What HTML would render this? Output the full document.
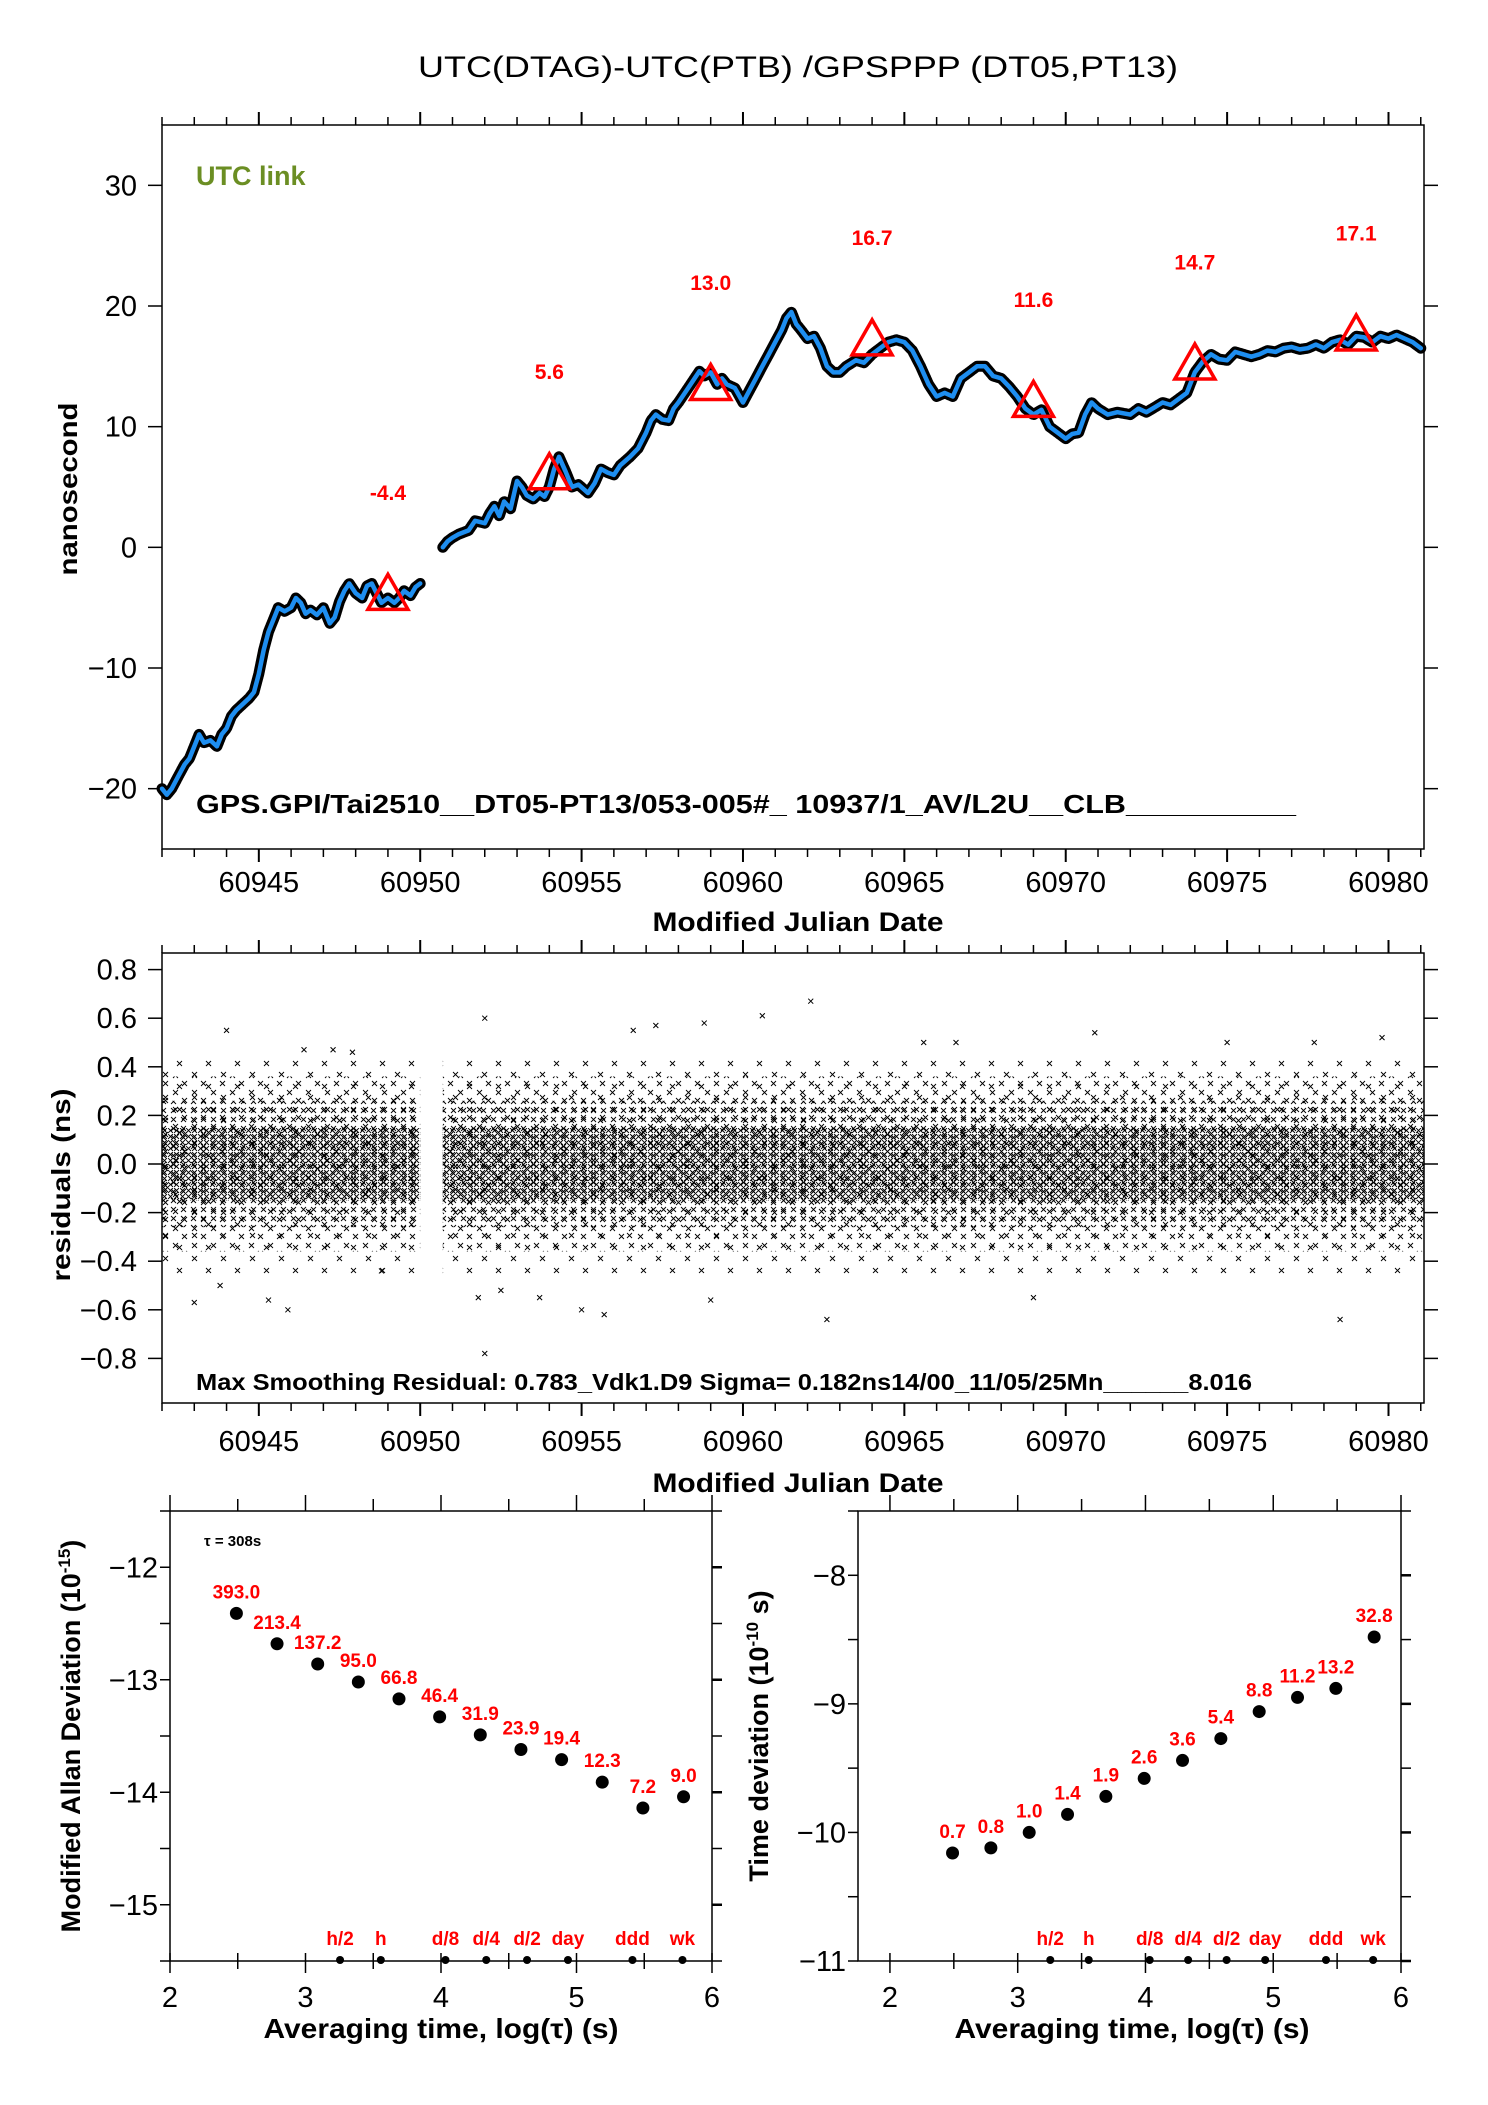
<!DOCTYPE html>
<html><head><meta charset="utf-8"><title>UTC(DTAG)-UTC(PTB)</title>
<style>
html,body{margin:0;padding:0;background:#fff;}
svg{display:block;font-family:"Liberation Sans",Arial,sans-serif;}
</style></head>
<body>
<svg id="chart" width="1488" height="2105" viewBox="0 0 1488 2105" xmlns="http://www.w3.org/2000/svg">
<defs>
<pattern id="pDense" width="6" height="6" patternUnits="userSpaceOnUse">
<path d="M0,0 L5,5 M5,0 L0,5" stroke="#000" stroke-width="0.9"/>
</pattern>
<pattern id="pMed" width="10" height="9" patternUnits="userSpaceOnUse">
<path d="M1,1 L6,6 M6,1 L1,6" stroke="#000" stroke-width="0.9"/>
</pattern>
<pattern id="pSparse" width="19" height="17" patternUnits="userSpaceOnUse">
<path d="M2,2 L7,7 M7,2 L2,7" stroke="#000" stroke-width="0.9"/>
<path d="M11,10 L16,15 M16,10 L11,15" stroke="#000" stroke-width="0.9"/>
</pattern>
<pattern id="pVSparse" width="29" height="23" patternUnits="userSpaceOnUse">
<path d="M3,3 L8,8 M8,3 L3,8" stroke="#000" stroke-width="0.9"/>
<path d="M18,14 L23,19 M23,14 L18,19" stroke="#000" stroke-width="0.9"/>
</pattern>
</defs>
<text x="798" y="77" font-size="30" text-anchor="middle" textLength="760" lengthAdjust="spacingAndGlyphs">UTC(DTAG)-UTC(PTB)  /GPSPPP  (DT05,PT13)</text>
<g id="g1"></g>
<g id="g2"></g>
<g id="g3"></g>
<g id="g4"></g>
</svg>
<script>
// ---------- data ----------
const offsetMjd = [60942.0,60942.15,60942.3,60942.5,60942.7,60942.85,60943.0,60943.15,60943.3,60943.5,60943.7,60943.85,60944.0,60944.15,60944.3,60944.5,60944.7,60944.85,60945.0,60945.15,60945.3,60945.45,60945.6,60945.8,60946.0,60946.15,60946.3,60946.45,60946.6,60946.8,60947.0,60947.2,60947.35,60947.5,60947.65,60947.8,60948.0,60948.2,60948.35,60948.5,60948.65,60948.8,60949.0,60949.2,60949.35,60949.5,60949.7,60949.85,60950.0,
null,
60950.7,60950.85,60951.0,60951.2,60951.5,60951.7,60952.0,60952.15,60952.3,60952.45,60952.6,60952.8,60953.0,60953.15,60953.3,60953.5,60953.7,60953.85,60954.0,60954.15,60954.3,60954.5,60954.7,60954.9,60955.2,60955.4,60955.6,60955.8,60956.0,60956.2,60956.5,60956.75,60957.0,60957.15,60957.3,60957.5,60957.7,60957.85,60958.0,60958.25,60958.5,60958.65,60958.8,60959.0,60959.2,60959.35,60959.5,60959.75,60960.0,60960.2,60960.4,60960.6,60960.8,60961.0,60961.2,60961.35,60961.5,60961.65,60961.8,60962.0,60962.2,60962.4,60962.6,60962.8,60963.0,60963.2,60963.5,60963.75,60964.0,60964.25,60964.5,60964.75,60965.0,60965.25,60965.5,60965.75,60966.0,60966.25,60966.5,60966.75,60967.0,60967.25,60967.5,60967.75,60968.0,60968.25,60968.5,60968.75,60969.0,60969.25,60969.5,60969.75,60970.0,60970.2,60970.4,60970.6,60970.8,60971.0,60971.3,60971.6,60972.0,60972.25,60972.5,60972.75,60973.0,60973.25,60973.5,60973.75,60974.0,60974.25,60974.5,60974.75,60975.0,60975.25,60975.5,60975.75,60976.0,60976.25,60976.5,60976.75,60977.0,60977.25,60977.5,60977.75,60978.0,60978.25,60978.5,60978.75,60979.0,60979.25,60979.5,60979.75,60980.0,60980.25,60980.5,60980.75,60981.0,60981.1];
const offsetNs = [-20,-20.5,-20,-19,-18,-17.5,-16.5,-15.5,-16.2,-16,-16.5,-15.5,-15,-14,-13.5,-13,-12.5,-12,-10.5,-8.5,-7,-6,-5,-5.3,-5,-4.2,-4.6,-5.5,-5.2,-5.6,-5,-6.3,-5.8,-4.5,-3.6,-3,-3.8,-4.2,-3.2,-3,-3.8,-4.6,-4.2,-4.6,-4.2,-3.6,-4,-3.3,-3,
null,
0,0.5,0.8,1.1,1.4,2.2,2,2.8,3.4,2.6,3.8,3.2,5.5,5,4.3,4,4.5,4.2,5,6.5,7.5,6.3,5,5.2,4.5,5.3,6.5,6.2,6,6.8,7.5,8.2,9.5,10.5,11,10.6,10.5,11.5,12,13,14,14.6,14.2,14.5,13.5,14,13.5,13.2,12,13,14,15,16,17,18,19,19.5,18.5,18,17.3,17.5,16.5,15,14.5,14.5,15,15.5,15.3,16,16.5,17,17.2,17,16.3,15,13.5,12.5,12.8,12.5,14,14.5,15,15,14.2,14,13.3,12.5,11.5,11,11.4,10,9.5,9,9.4,9.5,11,12,11.5,11,11.2,11,11.5,11.2,11.6,12,11.8,12.3,12.8,14.5,15.4,16,15.6,15.5,16.2,16,15.8,16,16.3,16.2,16.5,16.6,16.4,16.5,16.8,16.5,17,17.2,16.8,17.5,17.4,17,17.5,17.3,17.6,17.3,17,16.5];
const markMjd = [60949,60954,60959,60964,60969,60974,60979];
const markNs = [-4.4,5.6,13.0,16.7,11.6,14.7,17.1];
const markLabels = ["-4.4","5.6","13.0","16.7","11.6","14.7","17.1"];
const mjdTicks = [60945,60950,60955,60960,60965,60970,60975,60980];
const nsTicks = [-20,-10,0,10,20,30];
const resTicks = [-0.8,-0.6,-0.4,-0.2,0.0,0.2,0.4,0.6,0.8];
const resSegments = [[60942.0,60950.0],[60950.7,60981.1]];
const resOutX = [60943.0,60943.8,60944.0,60945.3,60945.9,60946.4,60947.3,60948.8,60952.0,60952.0,60951.8,60953.7,60955.0,60956.6,60958.8,60959.0,60962.1,60962.6,60965.6,60966.6,60970.9,60977.7,60978.5,60960.6,60947.9,60955.7,60952.5,60957.3,60969.0,60975.0,60979.8];
const resOutY = [-0.57,-0.5,0.55,-0.56,-0.6,0.47,0.47,-0.44,-0.78,0.6,-0.55,-0.55,-0.6,0.55,0.58,-0.56,0.67,-0.64,0.5,0.5,0.54,0.5,-0.64,0.61,0.46,-0.62,-0.52,0.57,-0.55,0.5,0.52];
const logTau = [2.49,2.79,3.09,3.39,3.69,3.99,4.29,4.59,4.89,5.19,5.49,5.79];
const mdevVals = [-12.41,-12.68,-12.86,-13.02,-13.17,-13.33,-13.49,-13.62,-13.71,-13.91,-14.14,-14.04];
const mdevLabels = ["393.0","213.4","137.2","95.0","66.8","46.4","31.9","23.9","19.4","12.3","7.2","9.0"];
const tdevVals = [-10.16,-10.12,-10.00,-9.86,-9.72,-9.58,-9.44,-9.27,-9.06,-8.95,-8.88,-8.48];
const tdevLabels = ["0.7","0.8","1.0","1.4","1.9","2.6","3.6","5.4","8.8","11.2","13.2","32.8"];
const markerNames = ["h/2","h","d/8","d/4","d/2","day","ddd","wk"];
const markerLog = [3.255,3.556,4.033,4.334,4.635,4.937,5.413,5.782];
const logTicks = [2,3,4,5,6];
const mdevTicks = [-15,-14,-13,-12];
const tdevTicks = [-11,-10,-9,-8];

// ---------- helpers ----------
const NS='http://www.w3.org/2000/svg';
function mk(parent,tag,attrs,text){const e=document.createElementNS(NS,tag);for(const k in attrs)e.setAttribute(k,attrs[k]);if(text!==undefined)e.textContent=text;parent.appendChild(e);return e;}
function lin(d0,d1,r0,r1){return v=>r0+(v-d0)*(r1-r0)/(d1-d0);}

// ---------- panel 1 ----------
(function(){
const g=document.getElementById('g1');
const L=162,R=1424,T=125,B=849;
const x=lin(60942,60981.1,L,R), y=lin(-25,35,B,T);
const fr=mk(g,'rect',{x:L,y:T,width:R-L,height:B-T,fill:'none',stroke:'#000','stroke-width':1.5});


for(let d=60942;d<=60981;d++){const maj=d%5===0;const xx=x(d);
 mk(g,'line',{x1:xx,y1:T,x2:xx,y2:T-(maj?13:8),stroke:'#000','stroke-width':maj?2:1.5});
 mk(g,'line',{x1:xx,y1:B,x2:xx,y2:B+(maj?13:8),stroke:'#000','stroke-width':maj?2:1.5});}
mjdTicks.forEach(v=>{const t=mk(g,'text',{x:x(v),y:892,'font-size':29,'text-anchor':'middle'},String(v));
 
 });
nsTicks.forEach(v=>{const yy=y(v);
 mk(g,'line',{x1:L-14,y1:yy,x2:L,y2:yy,stroke:'#000','stroke-width':1.5});
 mk(g,'line',{x1:R,y1:yy,x2:R+14,y2:yy,stroke:'#000','stroke-width':1.5});
 const t=mk(g,'text',{x:137,y:yy+10,'font-size':29,'text-anchor':'end'},v<0?'\u2212'+Math.abs(v):String(v));
 
 });
let segs=[],cur=[];
offsetMjd.forEach((m,i)=>{if(m===null){segs.push(cur);cur=[];}else cur.push([x(m),y(offsetNs[i])]);});
segs.push(cur);
segs.forEach(s=>{const d='M'+s.map(p=>p[0].toFixed(1)+','+p[1].toFixed(1)).join(' L');
 const k=mk(g,'path',{d:d,fill:'none',stroke:'#000','stroke-width':11,'stroke-linejoin':'round','stroke-linecap':'round','stroke-dasharray':'2 1'});
 
 
 const k2=mk(g,'path',{d:d,fill:'none',stroke:'#000','stroke-width':8,'stroke-linejoin':'round','stroke-linecap':'round'});
 
 
 const b=mk(g,'path',{d:d,fill:'none',stroke:'#1e8ef0','stroke-width':4.5,'stroke-linejoin':'round','stroke-linecap':'round'});
 
 });
markMjd.forEach((m,i)=>{const cx=x(m),cy=y(markNs[i]);
 const p=mk(g,'polygon',{points:`${cx},${cy-26} ${cx-20},${cy+9} ${cx+20},${cy+9}`,fill:'none',stroke:'#ff0000','stroke-width':3.5});
 
 
 const t=mk(g,'text',{x:cx,y:y(markNs[i]+9)+8,'font-size':21,'font-weight':'bold',fill:'#ff0000','text-anchor':'middle'},markLabels[i]);
 
 });
const u=mk(g,'text',{x:196,y:185,'font-size':27,'font-weight':'bold',fill:'#6b8e23'},'UTC link');


const gp=mk(g,'text',{x:196,y:813,'font-size':26,'font-weight':'bold',textLength:1100,lengthAdjust:'spacingAndGlyphs'},'GPS.GPI/Tai2510__DT05-PT13/053-005#_  10937/1_AV/L2U__CLB__________');


const yt=mk(g,'text',{x:0,y:0,'font-size':26,'font-weight':'bold','text-anchor':'middle',transform:'translate(77,489) rotate(-90)',textLength:173,lengthAdjust:'spacingAndGlyphs'},'nanosecond');


const xt=mk(g,'text',{x:798,y:931,'font-size':27,'font-weight':'bold','text-anchor':'middle',textLength:291,lengthAdjust:'spacingAndGlyphs'},'Modified Julian Date');


})();

// ---------- panel 2 ----------
(function(){
const g=document.getElementById('g2');
const L=162,R=1424,T=953,B=1403;
const x=lin(60942,60981.1,L,R), y=lin(0,0.2,1164,1115.4);
resSegments.forEach(s=>{const x0=x(s[0]),w=x(s[1])-x0;
 const a0=mk(g,'rect',{x:x0,y:y(0.45),width:w,height:y(-0.45)-y(0.45),fill:'url(#pVSparse)'});
 
 
 const a=mk(g,'rect',{x:x0,y:y(0.36),width:w,height:y(-0.36)-y(0.36),fill:'url(#pSparse)'});
 
 
 const b=mk(g,'rect',{x:x0,y:y(0.26),width:w,height:y(-0.26)-y(0.26),fill:'url(#pMed)'});
 
 
 const c=mk(g,'rect',{x:x0,y:y(0.15),width:w,height:y(-0.15)-y(0.15),fill:'url(#pDense)'});
 
 });
resOutX.forEach((m,i)=>{const cx=x(m),cy=y(resOutY[i]);
 const p=mk(g,'path',{d:`M${cx-2.5},${cy-2.5} L${cx+2.5},${cy+2.5} M${cx+2.5},${cy-2.5} L${cx-2.5},${cy+2.5}`,stroke:'#000','stroke-width':1});
 
 });
const fr=mk(g,'rect',{x:L,y:T,width:R-L,height:B-T,fill:'none',stroke:'#000','stroke-width':1.5});


for(let d=60942;d<=60981;d++){const maj=d%5===0;const xx=x(d);
 mk(g,'line',{x1:xx,y1:T,x2:xx,y2:T-(maj?13:8),stroke:'#000','stroke-width':maj?2:1.5});
 mk(g,'line',{x1:xx,y1:B,x2:xx,y2:B+(maj?13:8),stroke:'#000','stroke-width':maj?2:1.5});}
mjdTicks.forEach(v=>{const t=mk(g,'text',{x:x(v),y:1451,'font-size':29,'text-anchor':'middle'},String(v));
 
 });
resTicks.forEach(v=>{const yy=y(v);
 mk(g,'line',{x1:L-14,y1:yy,x2:L,y2:yy,stroke:'#000','stroke-width':1.5});
 mk(g,'line',{x1:R,y1:yy,x2:R+14,y2:yy,stroke:'#000','stroke-width':1.5});
 const s=(v<0?'\u2212':'')+Math.abs(v).toFixed(1);
 const t=mk(g,'text',{x:137,y:yy+10,'font-size':29,'text-anchor':'end'},s);
 
 });
const st=mk(g,'text',{x:196,y:1390,'font-size':23,'font-weight':'bold',textLength:1056,lengthAdjust:'spacingAndGlyphs'},'Max Smoothing Residual: 0.783_Vdk1.D9  Sigma= 0.182ns14/00_11/05/25Mn______8.016');


const yt=mk(g,'text',{x:0,y:0,'font-size':26,'font-weight':'bold','text-anchor':'middle',transform:'translate(70,1185) rotate(-90)',textLength:193,lengthAdjust:'spacingAndGlyphs'},'residuals (ns)');


const xt=mk(g,'text',{x:798,y:1492,'font-size':27,'font-weight':'bold','text-anchor':'middle',textLength:291,lengthAdjust:'spacingAndGlyphs'},'Modified Julian Date');


})();

// ---------- stability panels ----------
function stab(gid,L,R,xmin,ymin,ymax,vals,labels,yticks,titleX,titleMain,titleExp,titleTail,xTitleX){
const g=document.getElementById(gid);
const T=1511,B=1961;
const x=lin(xmin,6,L,R), y=lin(ymin,ymax,B,T);
const fr=mk(g,'rect',{x:L,y:T,width:R-L,height:B-T,fill:'none',stroke:'#000','stroke-width':1.5});


for(let v=2;v<=6;v+=0.5){const xx=x(v);const maj=Number.isInteger(v);
 mk(g,'line',{x1:xx,y1:T,x2:xx,y2:T-(maj?16:12),stroke:'#000','stroke-width':1.5});
 mk(g,'line',{x1:xx,y1:B-8,x2:xx,y2:B+(maj?12:8),stroke:'#000','stroke-width':1.5});}
logTicks.forEach(v=>{const t=mk(g,'text',{x:x(v),y:2007,'font-size':29,'text-anchor':'middle'},String(v));
 
 });
for(let v=Math.ceil(ymin*2)/2;v<=ymax;v+=0.5){const yy=y(v);
 mk(g,'line',{x1:L-10,y1:yy,x2:L,y2:yy,stroke:'#000','stroke-width':1.5});
 mk(g,'line',{x1:R,y1:yy,x2:R+10,y2:yy,stroke:'#000','stroke-width':Number.isInteger(v)?2.5:1.5});}
yticks.forEach(v=>{const t=mk(g,'text',{x:L-12,y:y(v)+10,'font-size':29,'text-anchor':'end'},'\u2212'+Math.abs(v));
 
 });
logTau.forEach((lt,i)=>{const c=mk(g,'circle',{cx:x(lt),cy:y(vals[i]),r:6.5,fill:'#000'});
 
 
 const t=mk(g,'text',{x:x(lt),y:y(vals[i])-15,'font-size':19,'font-weight':'bold',fill:'#ff0000','text-anchor':'middle'},labels[i]);
 
 });
markerLog.forEach((lt,i)=>{const c=mk(g,'circle',{cx:x(lt),cy:B-1,r:4,fill:'#000'});
 
 
 const t=mk(g,'text',{x:x(lt),y:B-16,'font-size':19,'font-weight':'bold',fill:'#ff0000','text-anchor':'middle'},markerNames[i]);
 
 });
const yt=mk(g,'text',{x:0,y:0,'font-size':27,'font-weight':'bold','text-anchor':'middle',transform:`translate(${titleX},1736) rotate(-90)`});


mk(yt,'tspan',{},titleMain);
mk(yt,'tspan',{dy:-10,'font-size':17},titleExp);
mk(yt,'tspan',{dy:10},titleTail);
const xt=mk(g,'text',{x:xTitleX,y:2038,'font-size':28,'font-weight':'bold','text-anchor':'middle',textLength:355,lengthAdjust:'spacingAndGlyphs'},'Averaging time, log(\u03c4) (s)');


return g;
}
const g3=stab('g3',170,712,2,-15.5,-11.5,mdevVals,mdevLabels,mdevTicks,80,'Modified Allan Deviation (10','-15',')',441);
const tl=mk(g3,'text',{x:204,y:1546,'font-size':15,'font-weight':'bold'},'\u03c4 = 308s');


stab('g4',858,1401,1.75,-11,-7.5,tdevVals,tdevLabels,tdevTicks,768,'Time deviation (10','-10',' s)',1132);
</script>
</body></html>
